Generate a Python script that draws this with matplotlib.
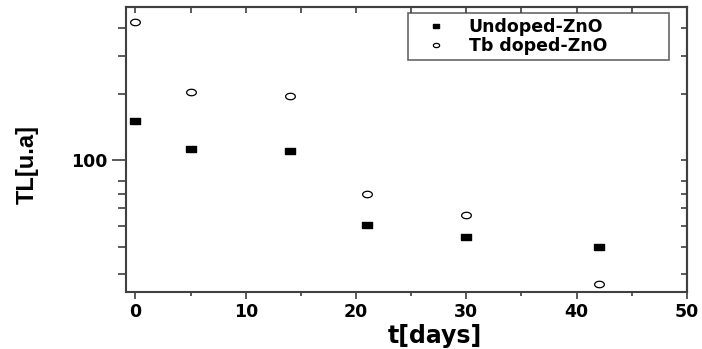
import numpy as np
import matplotlib.pyplot as plt
from matplotlib.ticker import FixedLocator, NullFormatter

plt.rcParams['font.family'] = ['DejaVu Sans']

days = [0, 5, 14, 21, 30, 42]
undoped = [150, 112, 110, 50.5, 44.3, 40]
tb_doped = [425, 204, 197, 70, 56, 27]

xmajor = [0, 10, 20, 30, 40, 50]
xminor = [5, 15, 25, 35, 45]
yminor = [30, 40, 50, 60, 70, 80, 200, 300, 400]

# wide-ish markers like the original (image is stretched horizontally)
rect = [(-1.5, -1), (1.5, -1), (1.5, 1), (-1.5, 1), (-1.5, -1)]
t = np.linspace(0, 2 * np.pi, 40)
ell = list(zip(1.5 * np.cos(t), np.sin(t)))

SP = '#404040'

fig = plt.figure(figsize=(7.02, 3.49), dpi=100)
ax = fig.add_axes([0.1788, 0.1642, 0.7995, 0.8158])

ax.plot(days, undoped, linestyle='none', marker=rect, markersize=7,
        color='black', label='Undoped-ZnO')
ax.plot(days, tb_doped, linestyle='none', marker=ell, markersize=7,
        markerfacecolor='white', markeredgecolor='black', markeredgewidth=0.9,
        label='Tb doped-ZnO')

ax.set_yscale('log')
ax.set_xlim(-0.9, 50)
ax.set_ylim(25, 500)

ax.xaxis.set_major_locator(FixedLocator(xmajor))
ax.xaxis.set_minor_locator(FixedLocator(xminor))
ax.yaxis.set_major_locator(FixedLocator([100]))
ax.yaxis.set_minor_locator(FixedLocator(yminor))
ax.yaxis.set_minor_formatter(NullFormatter())
ax.set_yticklabels(['100'])

for s in ax.spines.values():
    s.set_color(SP)
    s.set_linewidth(1.5)

ax.tick_params(axis='both', which='both', color=SP, width=1.2, labelsize=12.5)
ax.tick_params(axis='x', which='major', length=5, pad=3)
ax.tick_params(axis='x', which='minor', length=3)
ax.tick_params(axis='y', which='major', length=10, pad=3)
ax.tick_params(axis='y', which='minor', length=6)
for lab in ax.get_xticklabels() + ax.get_yticklabels():
    lab.set_fontweight('bold')

# inward ticks on top and right
top = ax.secondary_xaxis('top')
top.xaxis.set_major_locator(FixedLocator(xmajor))
top.xaxis.set_minor_locator(FixedLocator(xminor))
top.tick_params(which='both', direction='in', length=4, width=1.2, color=SP,
                labeltop=False)
right = ax.secondary_yaxis('right')
right.yaxis.set_major_locator(FixedLocator([100]))
right.yaxis.set_minor_locator(FixedLocator(yminor))
right.tick_params(which='both', direction='in', length=4, width=1.2, color=SP,
                  labelright=False)
right.yaxis.set_minor_formatter(NullFormatter())
for sa in (top, right):
    for s in sa.spines.values():
        s.set_color(SP)
        s.set_linewidth(1.5)

ax.set_xlabel('t[days]', fontsize=17, fontweight='bold')
ax.xaxis.set_label_coords(0.551, -0.115)
ax.set_ylabel('TL[u.a]', fontsize=17, fontweight='bold',
              family=['Liberation Sans', 'DejaVu Sans'])
ax.yaxis.set_label_coords(-0.155, 0.445)

leg = ax.legend(loc='upper right', bbox_to_anchor=(0.503, 0.817, 0.466, 0.163),
                mode='expand', prop={'weight': 'bold', 'size': 12.5},
                frameon=True, fancybox=False, edgecolor=SP, markerscale=0.65,
                handlelength=2.6, handletextpad=0.6, borderpad=0.3,
                labelspacing=0.05, borderaxespad=0)
leg.get_frame().set_linewidth(1.2)

fig.savefig('out.png', dpi=100)
